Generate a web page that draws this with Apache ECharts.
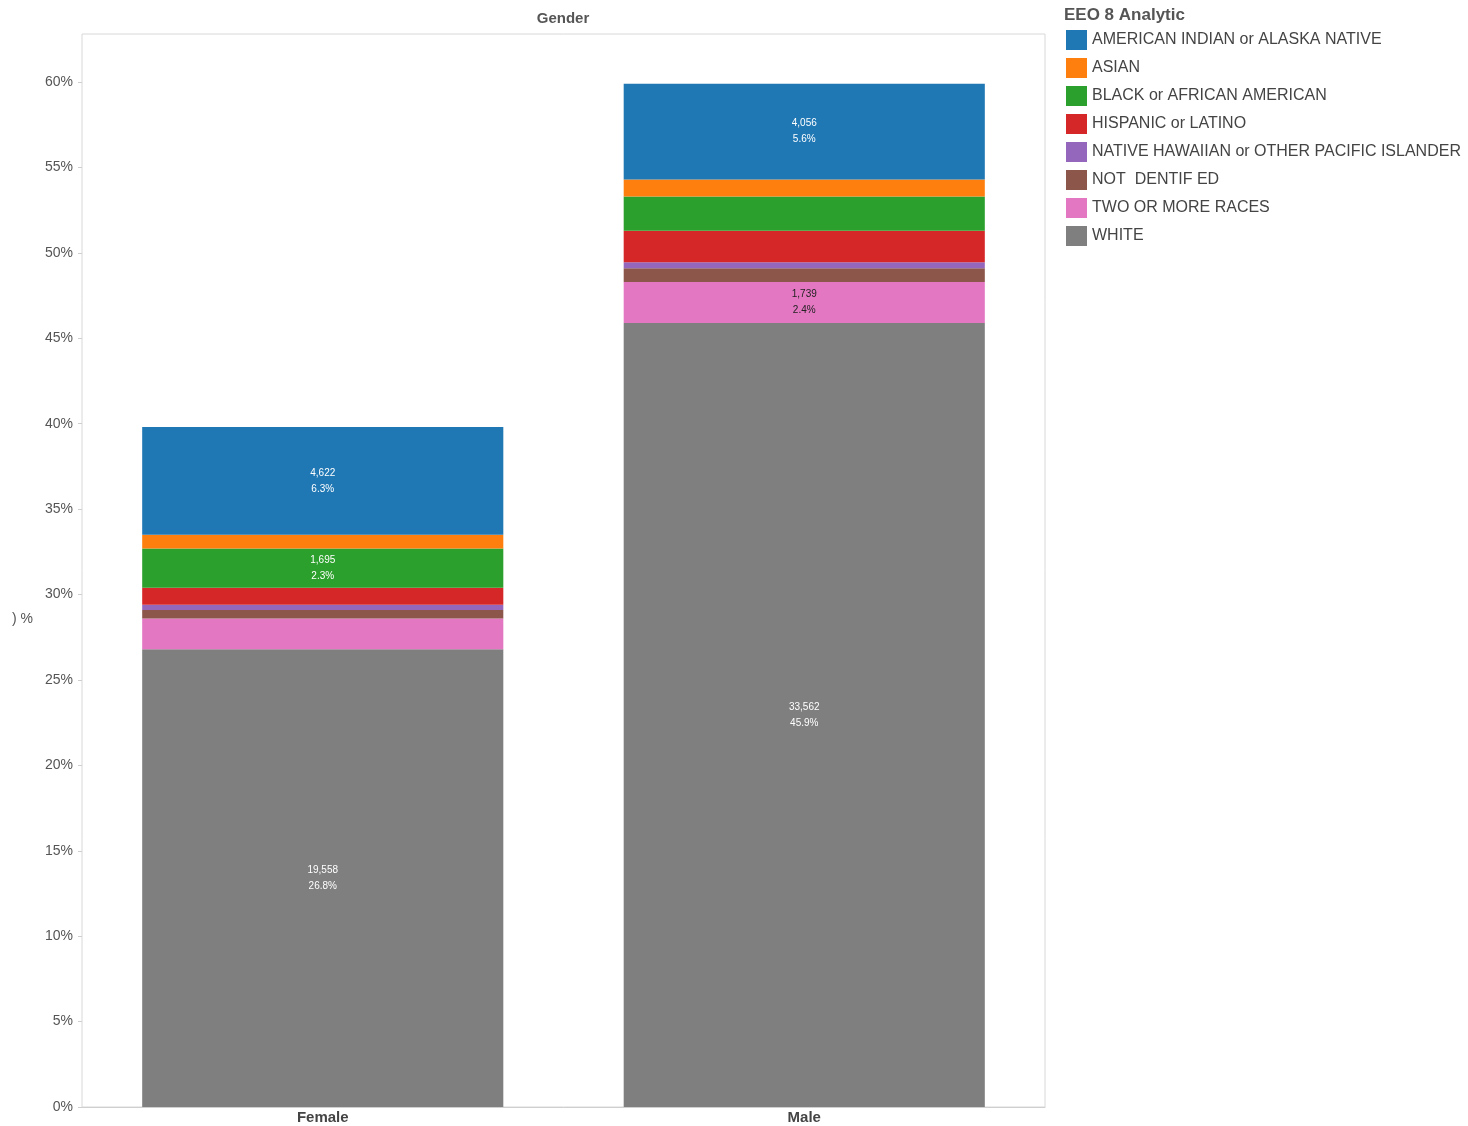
<!DOCTYPE html>
<html>
<head>
<meta charset="utf-8">
<script src="https://cdn.jsdelivr.net/npm/echarts@6/dist/echarts.min.js"></script>
<style>
html, body { margin: 0; padding: 0; background: #fff; }
#main { width: 1468px; height: 1126px; }
</style>
</head>
<body>
<div id="main"></div>
<script>
// categories
var genders = ['Female', 'Male'];
// legend order (as in the reference)
var groups = [
    'AMERICAN INDIAN or ALASKA NATIVE',
    'ASIAN',
    'BLACK or AFRICAN AMERICAN',
    'HISPANIC or LATINO',
    'NATIVE HAWAIIAN or OTHER PACIFIC ISLANDER',
    'NOT  DENTIF ED',
    'TWO OR MORE RACES',
    'WHITE'
];
var groupColors = ['#1f77b4', '#ff7f0e', '#2ca02c', '#d62728', '#9467bd', '#8c564b', '#e377c2', '#7f7f7f'];
// % of total, same order as groups
var femalePct = [6.3, 0.8, 2.3, 1.0, 0.3, 0.5, 1.8, 26.8];
var malePct = [5.6, 1.0, 2.0, 1.85, 0.35, 0.8, 2.4, 45.9];
// counts shown as labels (null = no label)
var femaleCount = [4622, null, 1695, null, null, null, null, 19558];
var maleCount = [4056, null, null, null, null, null, 1739, 33562];
// label text colour per group
var labelColors = ['#fff', '#fff', '#fff', '#fff', '#fff', '#fff', '#222', '#fff'];
// y tick values
var yTicks = [0, 5, 10, 15, 20, 25, 30, 35, 40, 45, 50, 55, 60];

function fmtCount(n){
    return n.toString().replace(/\B(?=(\d{3})+(?!\d))/g, ',');
}

var chart = echarts.init(document.getElementById('main'));

// stack from bottom: WHITE first
var series = [];
for (var i = groups.length - 1; i >= 0; i--) {
    (function(k){
        series.push({
            name: groups[k],
            type: 'bar',
            stack: 'total',
            barWidth: '75%',
            itemStyle: { color: groupColors[k] },
            label: {
                show: true,
                position: 'inside',
                color: labelColors[k],
                fontSize: 10,
                lineHeight: 16,
                formatter: function(p){
                    var c = p.dataIndex === 0 ? femaleCount[k] : maleCount[k];
                    if (c === null) return '';
                    var pct = p.dataIndex === 0 ? femalePct[k] : malePct[k];
                    return fmtCount(c) + '\n' + pct.toFixed(1) + '%';
                }
            },
            emphasis: { disabled: true },
            data: [femalePct[k], malePct[k]]
        });
    })(i);
}

var option = {
    animation: false,
    textStyle: { fontFamily: 'Arial, Liberation Sans, sans-serif' },
    title: {
        text: 'Gender',
        left: 558,
        textAlign: 'center',
        top: 6,
        textStyle: { fontSize: 15, fontWeight: 'bold', color: '#555' }
    },
    legend: {
        orient: 'vertical',
        left: 1061,
        top: 25,
        icon: 'rect',
        itemWidth: 21,
        itemHeight: 20,
        itemGap: 8,
        textStyle: { fontSize: 16, color: '#444', padding: [0, 0, 0, 0] },
        data: groups
    },
    graphic: [
        {
            type: 'text',
            left: 1064,
            top: 7,
            style: { text: 'EEO 8 Analytic', fontSize: 17, fontWeight: 'bold', fill: '#555' }
        },
        {
            type: 'text',
            left: 12,
            top: 612,
            style: { text: ') %', fontSize: 14, fill: '#555' }
        }
    ],
    grid: {
        left: 82,
        right: 423,
        top: 34,
        bottom: 19,
        show: true,
        borderColor: '#d8d8d8',
        borderWidth: 1
    },
    xAxis: {
        type: 'category',
        data: genders,
        axisLine: { lineStyle: { color: '#cfcfcf' } },
        axisTick: { show: false },
        axisLabel: { fontSize: 15, fontWeight: 'bold', color: '#444', margin: 3 }
    },
    yAxis: {
        type: 'value',
        min: 0,
        max: 62.81,
        interval: 5,
        splitLine: { show: false },
        axisLine: { show: false },
        axisTick: { show: true, length: 4, customValues: yTicks, lineStyle: { color: '#cfcfcf' } },
        axisLabel: {
            fontSize: 14,
            color: '#555',
            margin: 9,
            customValues: yTicks,
            formatter: function(v){
                return v + '%';
            }
        }
    },
    series: series
};
chart.setOption(option);
</script>
</body>
</html>
